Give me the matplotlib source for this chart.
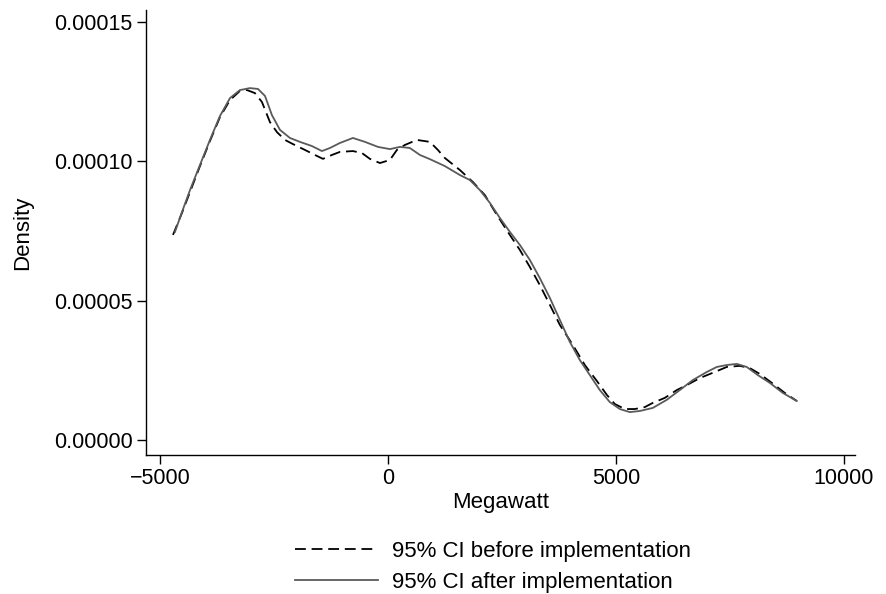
import matplotlib
matplotlib.use("Agg")
import matplotlib.pyplot as plt
from matplotlib.ticker import FormatStrFormatter

plt.rcParams['font.family'] = ['Liberation Sans', 'DejaVu Sans']

# Megawatt, density (x1e-5)
after_x = [-4671, -4518, -4342, -4123, -3904, -3684, -3465, -3246, -3026, -2851, -2697, -2544,
           -2368, -2149, -1930, -1667, -1447, -1272, -1053, -768, -504, -219, 44, 263, 482, 702,
           921, 1250, 1579, 1798, 2018, 2237, 2456, 2675, 2895, 3114, 3333, 3553, 3772, 3991,
           4210, 4430, 4649, 4868, 5088, 5307, 5526, 5811, 6118, 6403, 6689, 6996, 7215, 7434,
           7654, 7873, 8114, 8377, 8662, 8969]
after_y = [7.47, 8.18, 8.97, 9.87, 10.77, 11.63, 12.27, 12.56, 12.63, 12.60, 12.35, 11.66,
           11.13, 10.84, 10.70, 10.55, 10.37, 10.48, 10.66, 10.84, 10.70, 10.52, 10.44, 10.52,
           10.48, 10.23, 10.08, 9.83, 9.51, 9.33, 8.97, 8.51, 7.97, 7.47, 7.00, 6.46, 5.81,
           5.10, 4.31, 3.52, 2.87, 2.33, 1.79, 1.36, 1.11, 1.00, 1.04, 1.15, 1.44, 1.79, 2.15,
           2.44, 2.62, 2.69, 2.73, 2.62, 2.33, 2.05, 1.69, 1.40]

before_x = [-4715, -4518, -4342, -4123, -3904, -3684, -3465, -3246, -3092, -2917, -2763, -2588,
            -2434, -2259, -2083, -1820, -1601, -1425, -1228, -1053, -768, -570, -395, -175, 44,
            197, 373, 636, 921, 1097, 1250, 1579, 1864, 2127, 2390, 2675, 2895, 3114, 3333,
            3553, 3772, 4057, 4320, 4583, 4802, 4978, 5197, 5417, 5636, 5811, 6074, 6337, 6557,
            6842, 7171, 7434, 7719, 7939, 8158, 8421, 8706, 8969]
before_y = [7.36, 8.15, 8.90, 9.83, 10.73, 11.59, 12.20, 12.53, 12.56, 12.45, 12.13, 11.41,
            11.05, 10.77, 10.62, 10.41, 10.23, 10.09, 10.23, 10.34, 10.37, 10.30, 10.09, 9.94,
            10.05, 10.41, 10.59, 10.77, 10.70, 10.41, 10.12, 9.69, 9.26, 8.79, 8.08, 7.36, 6.82,
            6.21, 5.56, 4.85, 4.13, 3.41, 2.69, 2.12, 1.62, 1.29, 1.11, 1.11, 1.18, 1.33, 1.51,
            1.79, 1.97, 2.22, 2.44, 2.62, 2.66, 2.58, 2.37, 2.05, 1.69, 1.40]

x_ticks = [-5000, 0, 5000, 10000]
y_ticks = [0.0, 0.00005, 0.00010, 0.00015]
labels = ["95% CI before implementation", "95% CI after implementation"]

fig = plt.figure(figsize=(8.87, 5.94), dpi=100)
ax = fig.add_axes([0.1646, 0.234, 0.799, 0.749])

l1, = ax.plot(before_x, [v * 1e-5 for v in before_y], color='black', lw=1.3,
              linestyle=(0, (6, 3.2)))
l2, = ax.plot(after_x, [v * 1e-5 for v in after_y], color='#5a5a5a', lw=1.3)

ax.set_xlim(-5307, 10241)
ax.set_ylim(-0.54e-5, 15.43e-5)
ax.set_xticks(x_ticks)
ax.set_xticklabels(['\u22125000', '0', '5000', '10000'])
ax.set_yticks(y_ticks)
ax.yaxis.set_major_formatter(FormatStrFormatter('%.5f'))
for s in ['top', 'right']:
    ax.spines[s].set_visible(False)
for s in ['left', 'bottom']:
    ax.spines[s].set_linewidth(1.0)
ax.tick_params(direction='out', length=6.5, width=1.0, labelsize=15.5, pad=3)
ax.set_xlabel('Megawatt', fontsize=16, labelpad=2)
ax.set_ylabel('Density', fontsize=16, labelpad=15)

fig.legend([l1, l2], labels, loc='upper center', bbox_to_anchor=(0.556, 0.104),
           frameon=False, fontsize=16, handlelength=3.7, handletextpad=0.65,
           labelspacing=0.45, borderaxespad=0)

fig.savefig('out.png', dpi=100)
